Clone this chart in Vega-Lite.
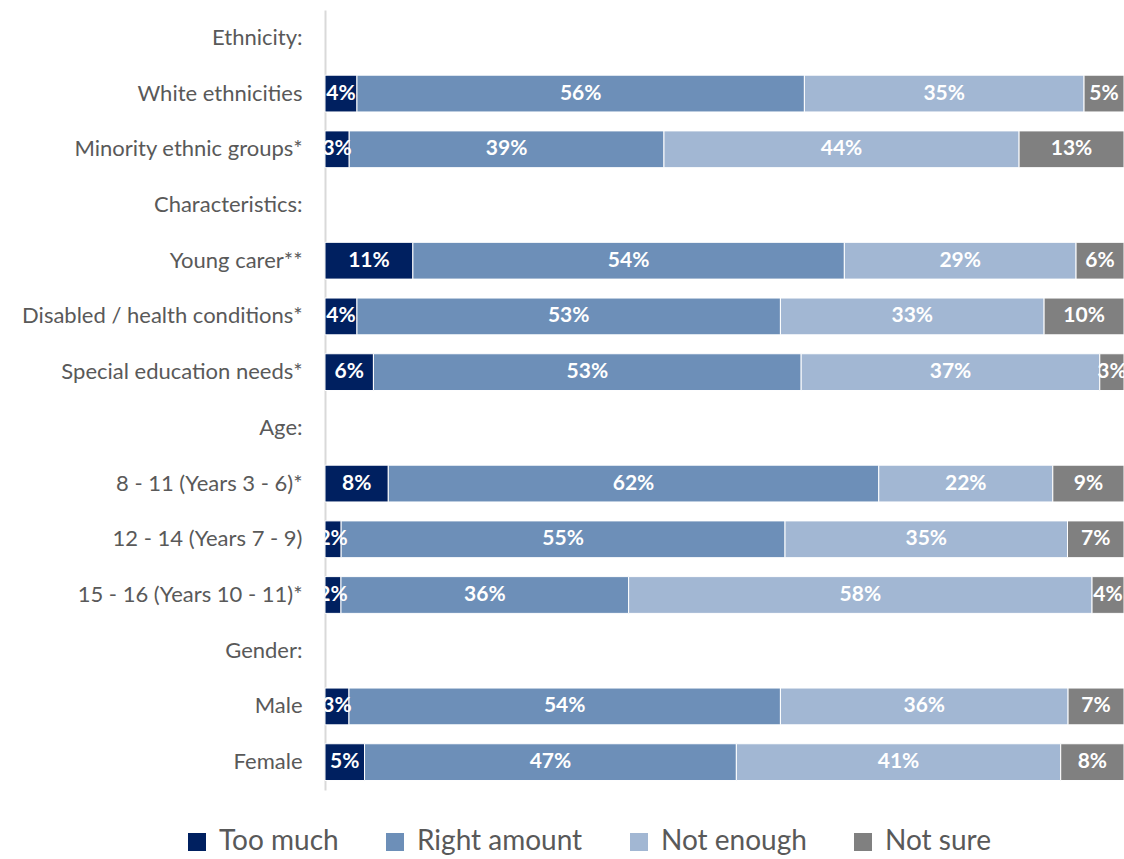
{
  "$schema": "https://vega.github.io/schema/vega-lite/v6.json",
  "width": 799,
  "height": 780,
  "autosize": {"type": "none"},
  "padding": {"left": 325, "top": 10, "right": 0, "bottom": 69},
  "background": "white",
  "view": {"stroke": null},
  "data": {
    "values": [
      {"group": "White ethnicities", "response": "Too much", "value": 4},
      {"group": "White ethnicities", "response": "Right amount", "value": 56},
      {"group": "White ethnicities", "response": "Not enough", "value": 35},
      {"group": "White ethnicities", "response": "Not sure", "value": 5},
      {"group": "Minority ethnic groups*", "response": "Too much", "value": 3},
      {"group": "Minority ethnic groups*", "response": "Right amount", "value": 39},
      {"group": "Minority ethnic groups*", "response": "Not enough", "value": 44},
      {"group": "Minority ethnic groups*", "response": "Not sure", "value": 13},
      {"group": "Young carer**", "response": "Too much", "value": 11},
      {"group": "Young carer**", "response": "Right amount", "value": 54},
      {"group": "Young carer**", "response": "Not enough", "value": 29},
      {"group": "Young carer**", "response": "Not sure", "value": 6},
      {"group": "Disabled / health conditions*", "response": "Too much", "value": 4},
      {"group": "Disabled / health conditions*", "response": "Right amount", "value": 53},
      {"group": "Disabled / health conditions*", "response": "Not enough", "value": 33},
      {"group": "Disabled / health conditions*", "response": "Not sure", "value": 10},
      {"group": "Special education needs*", "response": "Too much", "value": 6},
      {"group": "Special education needs*", "response": "Right amount", "value": 53},
      {"group": "Special education needs*", "response": "Not enough", "value": 37},
      {"group": "Special education needs*", "response": "Not sure", "value": 3},
      {"group": "8 - 11 (Years 3 - 6)*", "response": "Too much", "value": 8},
      {"group": "8 - 11 (Years 3 - 6)*", "response": "Right amount", "value": 62},
      {"group": "8 - 11 (Years 3 - 6)*", "response": "Not enough", "value": 22},
      {"group": "8 - 11 (Years 3 - 6)*", "response": "Not sure", "value": 9},
      {"group": "12 - 14 (Years 7 - 9)", "response": "Too much", "value": 2},
      {"group": "12 - 14 (Years 7 - 9)", "response": "Right amount", "value": 55},
      {"group": "12 - 14 (Years 7 - 9)", "response": "Not enough", "value": 35},
      {"group": "12 - 14 (Years 7 - 9)", "response": "Not sure", "value": 7},
      {"group": "15 - 16 (Years 10 - 11)*", "response": "Too much", "value": 2},
      {"group": "15 - 16 (Years 10 - 11)*", "response": "Right amount", "value": 36},
      {"group": "15 - 16 (Years 10 - 11)*", "response": "Not enough", "value": 58},
      {"group": "15 - 16 (Years 10 - 11)*", "response": "Not sure", "value": 4},
      {"group": "Male", "response": "Too much", "value": 3},
      {"group": "Male", "response": "Right amount", "value": 54},
      {"group": "Male", "response": "Not enough", "value": 36},
      {"group": "Male", "response": "Not sure", "value": 7},
      {"group": "Female", "response": "Too much", "value": 5},
      {"group": "Female", "response": "Right amount", "value": 47},
      {"group": "Female", "response": "Not enough", "value": 41},
      {"group": "Female", "response": "Not sure", "value": 8}
    ]
  },
  "transform": [
    {"calculate": "indexof(['Too much','Right amount','Not enough','Not sure'], datum.response)", "as": "o"},
    {"stack": "value", "groupby": ["group"], "sort": [{"field": "o", "order": "ascending"}], "offset": "normalize", "as": ["x0", "x1"]},
    {"calculate": "(datum.x0 + datum.x1) / 2", "as": "xm"},
    {"calculate": "datum.value + '%'", "as": "label"}
  ],
  "encoding": {
    "y": {
      "field": "group",
      "type": "nominal",
      "scale": {
        "domain": ["Ethnicity:", "White ethnicities", "Minority ethnic groups*", "Characteristics:", "Young carer**", "Disabled / health conditions*", "Special education needs*", "Age:", "8 - 11 (Years 3 - 6)*", "12 - 14 (Years 7 - 9)", "15 - 16 (Years 10 - 11)*", "Gender:", "Male", "Female"],
        "paddingInner": 0.34,
        "paddingOuter": 0.17
      },
      "axis": {
        "title": null,
        "ticks": false,
        "labelFontSize": 22,
        "labelFont": "Lato",
        "labelColor": "#595959",
        "labelPadding": 23,
        "labelLimit": 400,
        "domainColor": "#d9d9d9",
        "domainWidth": 2
      }
    }
  },
  "layer": [
    {
      "mark": {"type": "bar", "stroke": "white", "strokeWidth": 1},
      "encoding": {
        "x": {"field": "x0", "type": "quantitative", "scale": {"domain": [0, 1], "nice": false}, "axis": null},
        "x2": {"field": "x1"},
        "color": {
          "field": "response",
          "type": "nominal",
          "scale": {
            "domain": ["Too much", "Right amount", "Not enough", "Not sure"],
            "range": ["#002060", "#6D8FB8", "#A2B7D3", "#808080"]
          },
          "legend": {
            "title": null,
            "orient": "none",
            "direction": "horizontal",
            "legendX": -142,
            "legendY": 818,
            "symbolType": "square",
            "symbolSize": 324,
            "symbolStrokeWidth": 0,
            "labelFontSize": 28,
            "labelFont": "Lato",
            "labelColor": "#595959",
            "labelLimit": 400,
            "columnPadding": 42,
            "labelOffset": 8,
            "encode": {
              "labels": {
                "update": {
                  "fill": {"signal": "datum.label === 'Right amount' ? '#1e1e1e' : '#595959'"}
                }
              }
            }
          }
        }
      }
    },
    {
      "mark": {"type": "text", "color": "white", "fontWeight": "bold", "fontSize": 21, "font": "Lato", "clip": true},
      "encoding": {
        "x": {"field": "xm", "type": "quantitative"},
        "text": {"field": "label"}
      }
    }
  ]
}
